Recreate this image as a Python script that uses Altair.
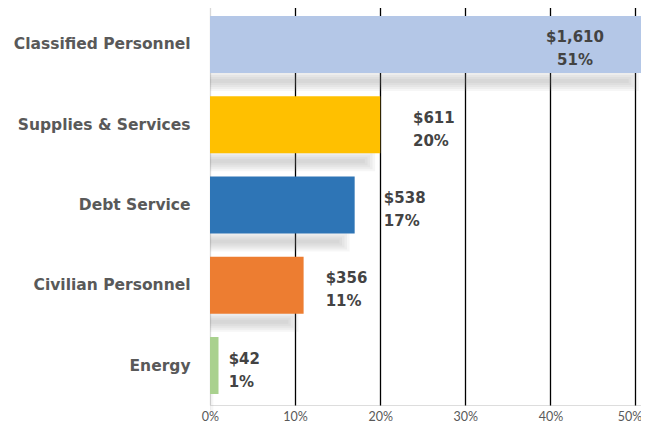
import altair as alt
import pandas as pd

categories = ["Classified Personnel", "Supplies & Services", "Debt Service", "Civilian Personnel", "Energy"]
amounts = [1610, 611, 538, 356, 42]
percents = [51, 20, 17, 11, 1]
colors = ["#B4C7E7", "#FFC000", "#2E75B6", "#ED7D31", "#A9D18E"]
x_ticks = [0, 0.1, 0.2, 0.3, 0.4, 0.5]

df = pd.DataFrame({
    "category": categories,
    "amount": amounts,
    "pct": [p / 100 for p in percents],
    "color": colors,
    "label": ["$" + f"{a:,}" + "\n" + f"{p}%" for a, p in zip(amounts, percents)],
})

LABEL_FONT = "DejaVu Sans"
TICK_FONT = "Lato"
HALF_BAND = 28.5  # half of the bar thickness in px

y_enc = alt.Y(
    "category:N",
    sort=categories,
    scale=alt.Scale(paddingInner=0.29, paddingOuter=0.137),
    axis=alt.Axis(
        title=None, labelFont=LABEL_FONT, labelFontWeight="bold", labelFontSize=15.5,
        labelColor="#595959", labelPadding=20, ticks=False, domain=False,
    ),
)
x_scale = alt.Scale(domain=[0, 0.51], nice=False, zero=True)
x_axis = alt.Axis(
    values=x_ticks, format=".0%", title=None, grid=True,
    gridColor={"condition": {"test": "datum.value === 0", "value": "#D9D9D9"}, "value": "#000000"},
    gridWidth=1.3, ticks=False, domain=False, labelFlush=False,
    labelOffset={"condition": {"test": "datum.value >= 0.5", "value": -6}, "value": 0},
    labelFont=TICK_FONT, labelFontSize=12.5, labelColor="#595959", labelPadding=5,
)

base = alt.Chart(df)

# soft drop shadow below each bar: nested strips centred ~8px under the bar edge
SHADOW_CENTER = 8
shadow_heights = [20, 16, 12, 8, 4]
shadows = []
for i, h in enumerate(shadow_heights):
    cut = 0.006 + 0.003 * i
    shadows.append(
        base.transform_calculate(sh=f"max(datum.pct - {cut}, 0)")
        .mark_bar(color="#8C8C8C", opacity=0.075, size=h, yOffset=HALF_BAND + SHADOW_CENTER)
        .encode(x=alt.X("sh:Q", scale=x_scale, axis=x_axis), y=y_enc)
    )

bars = base.mark_bar().encode(
    x=alt.X("pct:Q", scale=x_scale, axis=x_axis),
    y=y_enc,
    color=alt.Color("color:N", scale=None),
)

text_style = dict(font=LABEL_FONT, fontWeight="bold", fontSize=15, color="#434343",
                  lineBreak="\n", lineHeight=23, baseline="middle", dy=-7)

inside = base.transform_filter("datum.pct > 0.4").mark_text(
    align="center", dx=-69, **text_style
).encode(x=alt.X("pct:Q", scale=x_scale, axis=x_axis), y=y_enc, text="label:N")

outside = base.transform_filter("datum.pct <= 0.4").transform_calculate(
    lx="datum.pct * 1.14 + 0.0105"
).mark_text(align="left", **text_style).encode(
    x=alt.X("lx:Q", scale=x_scale, axis=x_axis), y=y_enc, text="label:N"
)

chart = alt.layer(*shadows, bars, inside, outside).properties(
    width=434, height=400,
    autosize=alt.AutoSizeParams(type="none"),
    padding={"left": 202, "top": -3, "right": -3, "bottom": 17},
).configure_view(stroke=None).configure(background="white")

chart.save("out.html", embed_options={"renderer": "svg", "actions": False})
